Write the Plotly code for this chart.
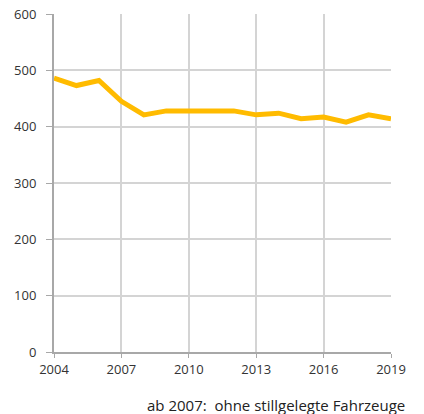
import plotly.graph_objects as go

years = list(range(2004, 2020))
values = [486, 473, 482, 445, 421, 428, 428, 428, 428, 421, 424, 414, 417, 408, 421, 414]
x_ticks = [2004, 2007, 2010, 2013, 2016, 2019]
y_ticks = [0, 100, 200, 300, 400, 500, 600]
note = "ab 2007:  ohne stillgelegte Fahrzeuge"

fig = go.Figure()
fig.add_trace(go.Scatter(x=years, y=values, mode="lines",
                         line=dict(color="#FFBB00", width=5), hoverinfo="skip"))

font = dict(family="Open Sans, DejaVu Sans, sans-serif", size=13, color="#333333")

fig.update_layout(
    width=424, height=414,
    margin=dict(l=54, r=33, t=14, b=62, autoexpand=False),
    paper_bgcolor="white", plot_bgcolor="white",
    showlegend=False,
    font=font,
    xaxis=dict(range=[2004, 2019], tickvals=x_ticks, ticktext=[str(v) for v in x_ticks],
               showgrid=True, gridcolor="#d4d4d4", gridwidth=1.5,
               showline=True, linecolor="#a8a8a8", linewidth=2,
               ticks="outside", ticklen=4, tickcolor="#a8a8a8", tickwidth=1,
               zeroline=False, fixedrange=True, automargin=False),
    yaxis=dict(range=[0, 600], tickvals=y_ticks,
               showgrid=True, gridcolor="#d4d4d4", gridwidth=1.5,
               showline=True, linecolor="#a8a8a8", linewidth=2,
               ticks="outside", ticklen=6, tickcolor="#a8a8a8", tickwidth=1,
               ticklabelstandoff=7,
               zeroline=False, fixedrange=True, automargin=False),
    annotations=[dict(text=note, xref="paper", yref="paper", x=1.047, y=-0.157,
                      xanchor="right", yanchor="middle", showarrow=False,
                      font=dict(family="Open Sans, DejaVu Sans, sans-serif", size=15, color="#222222"))],
)
fig.write_html("out.html", config={"displayModeBar": False},
               post_script="document.body.style.margin='0';document.body.style.padding='0';document.body.style.overflow='hidden';")
